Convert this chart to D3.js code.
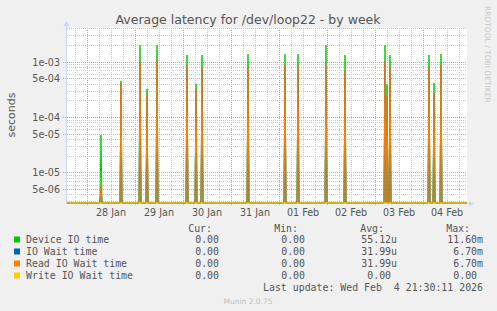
<!DOCTYPE html>
<html>
<head>
<meta charset="utf-8">
<script src="https://cdn.jsdelivr.net/npm/d3@7"></script>
<style>
body { margin: 0; background: #f0f0f0; }
svg { display: block; }
text { font-family: "DejaVu Sans", sans-serif; fill: #555; }
.mono { font-family: "DejaVu Sans Mono", monospace; font-size: 9.9px; white-space: pre; }
</style>
</head>
<body>
<div id="chart"></div>
<script>
// spikes in the week (30 min samples), everything else is 0
const spikeTimes = [
    "2026-01-28T07:00", "2026-01-28T17:00", "2026-01-29T02:30", "2026-01-29T06:00",
    "2026-01-29T11:00", "2026-01-30T02:00", "2026-01-30T06:30", "2026-01-30T09:30",
    "2026-01-31T08:30", "2026-02-01T03:00", "2026-02-01T09:30", "2026-02-01T23:30",
    "2026-02-02T09:00", "2026-02-03T05:00", "2026-02-03T06:00", "2026-02-03T07:30",
    "2026-02-04T03:00", "2026-02-04T05:30", "2026-02-04T09:00"
];
const deviceIO = [4.7e-5, 4.5e-4, 2.0e-3, 3.2e-4, 2.0e-3, 1.32e-3, 4.0e-4, 1.32e-3,
    1.37e-3, 1.37e-3, 1.37e-3, 2.0e-3, 1.32e-3, 2.0e-3, 3.9e-4, 1.32e-3,
    1.32e-3, 4.1e-4, 1.37e-3];
const ioWait = [5.7e-6, 4.1e-4, 1.0e-3, 2.4e-4, 1.07e-3, 8.4e-4, 3.1e-4, 8.1e-4,
    8.1e-4, 8.4e-4, 8.4e-4, 8.4e-4, 6.8e-4, 1.0e-3, 2.4e-4, 8.1e-4,
    8.1e-4, 2.7e-4, 8.4e-4];
const readIO = [5.7e-6, 4.1e-4, 1.0e-3, 2.4e-4, 1.07e-3, 8.4e-4, 3.1e-4, 8.1e-4,
    8.1e-4, 8.4e-4, 8.4e-4, 8.4e-4, 6.8e-4, 1.0e-3, 2.4e-4, 8.1e-4,
    8.1e-4, 2.7e-4, 8.4e-4];
const writeIO = [0, 0, 0, 0, 0, 0, 0, 0, 0, 0, 0, 0, 0, 0, 0, 0, 0, 0, 0];

const yTicks = [1e-3, 5e-4, 1e-4, 5e-5, 1e-5, 5e-6];
const yTickLabels = ["1e-03", "5e-04", "1e-04", "5e-05", "1e-05", "5e-06"];
const dayLabels = ["28 Jan", "29 Jan", "30 Jan", "31 Jan", "01 Feb", "02 Feb", "03 Feb", "04 Feb"];

const seriesNames = ["Device IO time", "IO Wait time", "Read IO Wait time", "Write IO Wait time"];
const seriesColors = ["#00cc00", "#0066b3", "#ff8000", "#ffcc00"];
const curVals = ["0.00", "0.00", "0.00", "0.00"];
const minVals = ["0.00", "0.00", "0.00", "0.00"];
const avgVals = ["55.12u", "31.99u", "31.99u", "0.00 "];
const maxVals = ["11.60m", "6.70m", "6.70m", "0.00 "];

const parse = d3.utcParse("%Y-%m-%dT%H:%M");
const start = parse("2026-01-27T14:00");
const end = parse("2026-02-04T22:00");
const halfStep = 30 * 60 * 1000;

const svg = d3.select("#chart").append("svg")
    .attr("width", 497)
    .attr("height", 311);

svg.append("rect").attr("width", 497).attr("height", 311).attr("fill", "#f0f0f0");
svg.append("rect")
    .attr("x", 67).attr("y", 28)
    .attr("width", 400).attr("height", 175)
    .attr("fill", "#ffffff");

const x = d3.scaleUtc()
    .domain([start, end])
    .range([67, 467]);

const y = d3.scaleLog()
    .domain([Math.pow(10, -5.555), Math.pow(10, -2.39)])
    .range([203, 28]);

// vertical grid
const grid = svg.append("g").attr("shape-rendering", "crispEdges");
d3.utcHour.every(6).range(start, end).forEach(t => {
    const major = t.getUTCHours() === 0;
    grid.append("line")
        .attr("x1", Math.round(x(t)) + 0.5).attr("x2", Math.round(x(t)) + 0.5)
        .attr("y1", 28).attr("y2", major ? 206 : 203)
        .attr("stroke", major ? "#e49a9a" : "#c8c8c8")
        .attr("stroke-dasharray", "1,1");
});

// horizontal grid (log decades)
[-6, -5, -4, -3].forEach(e => {
    for (let m = 1; m <= 9; m++) {
        const v = m * Math.pow(10, e);
        if (v < y.domain()[0] || v > y.domain()[1]) continue;
        const major = m === 1 || m === 5;
        const yy = Math.round(y(v)) + 0.5;
        grid.append("line")
            .attr("x1", major ? 63 : 67).attr("x2", 467)
            .attr("y1", yy).attr("y2", yy)
            .attr("stroke", major ? "#e49a9a" : "#c8c8c8")
            .attr("stroke-dasharray", "1,1");
    }
});

svg.selectAll(".ytick")
    .data(yTicks)
    .enter().append("text")
    .attr("class", "ytick")
    .attr("x", 60)
    .attr("y", d => Math.round(y(d)) + 4)
    .attr("text-anchor", "end")
    .style("font-size", "9.6px")
    .text((d, i) => yTickLabels[i]);

svg.selectAll(".xtick")
    .data(dayLabels)
    .enter().append("text")
    .attr("class", "xtick")
    .attr("x", (d, i) => x(d3.utcHour.offset(d3.utcDay.offset(parse("2026-01-28T00:00"), i), 12)))
    .attr("y", 216)
    .attr("text-anchor", "middle")
    .style("font-size", "9.6px")
    .text(d => d);

// axes
svg.append("line")
    .attr("x1", 66.5).attr("x2", 66.5).attr("y1", 25).attr("y2", 204)
    .attr("stroke", "#cfd6f8");
svg.append("path").attr("d", "M66.5,21L63.5,26L69.5,26Z").attr("fill", "#cfd6f8");
svg.append("line")
    .attr("x1", 66).attr("x2", 470).attr("y1", 203.5).attr("y2", 203.5)
    .attr("stroke", "#cfd6f8");
svg.append("path").attr("d", "M474,203.5L469,200.5L469,206.5Z").attr("fill", "#cfd6f8");

function points(values) {
    const pts = [[start, 0]];
    spikeTimes.forEach((s, i) => {
        const t = parse(s);
        pts.push([new Date(+t - halfStep), 0], [t, values[i]], [new Date(+t + halfStep), 0]);
    });
    pts.push([end, 0]);
    return pts.sort((a, b) => a[0] - b[0]);
}

const line = d3.line()
    .x(d => x(d[0]))
    .y(d => d[1] > 0 ? y(d[1]) : 203);

[deviceIO, ioWait, readIO, writeIO].forEach((vals, i) => {
    svg.append("path")
        .datum(points(vals))
        .attr("fill", "none")
        .attr("stroke", seriesColors[i])
        .attr("stroke-width", 1)
        .attr("d", line);
});

// title and side texts
svg.append("text")
    .attr("x", 248).attr("y", 24)
    .attr("text-anchor", "middle")
    .style("font-size", "12.5px")
    .text("Average latency for /dev/loop22 - by week");

svg.append("text")
    .attr("transform", "translate(15,115) rotate(-90)")
    .attr("text-anchor", "middle")
    .style("font-size", "11px")
    .text("seconds");

svg.append("text")
    .attr("transform", "translate(485,6) rotate(90)")
    .style("font-size", "7.5px")
    .style("fill", "#c8c8c8")
    .text("RRDTOOL / TOBI OETIKER");

// legend
const headers = ["Cur:", "Min:", "Avg:", "Max:"];
const headerX = [212, 298, 384, 470];
headers.forEach((h, i) => {
    svg.append("text").attr("class", "mono")
        .attr("x", headerX[i]).attr("y", 231.5)
        .attr("text-anchor", "end")
        .text(h);
});

const colX = [219, 305, 397, 483];
seriesNames.forEach((name, i) => {
    const by = 243 + i * 12;
    svg.append("rect")
        .attr("x", 14).attr("y", by - 6.5)
        .attr("width", 6).attr("height", 6)
        .attr("fill", seriesColors[i]);
    svg.append("text").attr("class", "mono")
        .attr("x", 26).attr("y", by)
        .text(name);
    [curVals[i], minVals[i], avgVals[i], maxVals[i]].forEach((v, j) => {
        svg.append("text").attr("class", "mono")
            .attr("xml:space", "preserve")
            .attr("x", colX[j]).attr("y", by)
            .attr("text-anchor", "end")
            .text(v);
    });
});

svg.append("text").attr("class", "mono")
    .attr("xml:space", "preserve")
    .attr("x", 483).attr("y", 291)
    .attr("text-anchor", "end")
    .text("Last update: Wed Feb  4 21:30:11 2026");

svg.append("text")
    .attr("x", 248).attr("y", 303.5)
    .attr("text-anchor", "middle")
    .style("font-size", "7.5px")
    .style("fill", "#c0c0c0")
    .text("Munin 2.0.75");
</script>
</body>
</html>
